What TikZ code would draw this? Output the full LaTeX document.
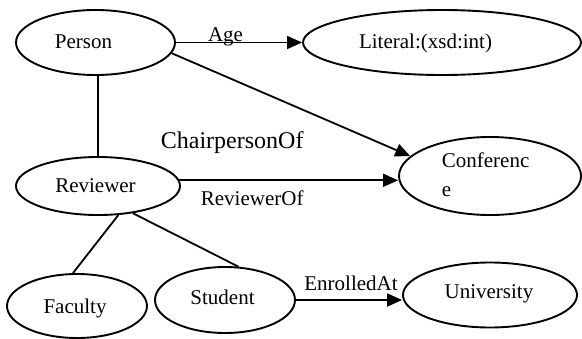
\documentclass[tikz,border=0pt]{standalone}
\usepackage{fontspec}
\setmainfont{Liberation Serif}
\usetikzlibrary{shapes.geometric,arrows.meta}
\begin{document}
\begin{tikzpicture}[x=1pt,y=-1pt,
  line width=1.8pt,
  every node/.style={font=\fontsize{21}{25}\selectfont, inner sep=0pt},
  ent/.style={draw, ellipse, line width=1.9pt},
  rel/.style={-{Triangle[length=15pt,width=13pt]}},
  lbl/.style={anchor=base},
  tag/.style={anchor=base}]
\useasboundingbox (0,0) rectangle (582,338);

% entity ellipses
\node[ent, minimum width=159pt, minimum height=65pt] (person)   at (95.5,42.5) {};
\node[ent, minimum width=278pt, minimum height=65pt] (literal)  at (442,42.5) {};
\node[ent, minimum width=164pt, minimum height=58pt] (reviewer) at (98,186) {};
\node[ent, minimum width=182pt, minimum height=78pt] (conf)     at (490,176) {};
\node[ent, minimum width=140pt, minimum height=64pt] (faculty)  at (77,306) {};
\node[ent, minimum width=140pt, minimum height=66pt] (student)  at (225,300) {};
\node[ent, minimum width=174pt, minimum height=65pt] (univ)     at (490,295) {};

% entity names
\node[tag] (person-t)   at (83.5,48.5)  {Person};
\node[tag] (literal-t)  at (425.5,48.5) {Literal:(xsd:int)};
\node[tag] (reviewer-t) at (95.5,192.5) {Reviewer};
\node[tag] (faculty-t)  at (75,313)     {Faculty};
\node[tag] (student-t)  at (222.5,304)  {Student};
\node[tag] (univ-t)     at (489,298)    {University};
\node[tag, anchor=base west] (conf-t1) at (441,167) {Conferenc};
\node[tag, anchor=base west] (conf-t2) at (441,196) {e};

% hierarchy links
\draw (reviewer.north) -- (reviewer.north |- person.south);
\draw (reviewer.-55) -- (faculty.97);
\draw (reviewer.-38) -- (student.68);

% properties
\draw[rel] (person.east) -- (literal.west);
\draw[rel] (person.-8) -- (conf.166);
\draw[rel] (reviewer.4) -- (reviewer.4 -| conf.west);
\draw[rel] (student.east) -- (student.east -| univ.west);

% property labels
\node[lbl] (age-l)      at (225.5,41) {Age};
\node[lbl, anchor=base west, font=\fontsize{24}{28}\selectfont] (chair-l) at (160,148) {ChairpersonOf};
\node[lbl, anchor=base west] (revof-l) at (200,205) {ReviewerOf};
\node[lbl] (enr-l)      at (351,290) {EnrolledAt};
\end{tikzpicture}
\end{document}
